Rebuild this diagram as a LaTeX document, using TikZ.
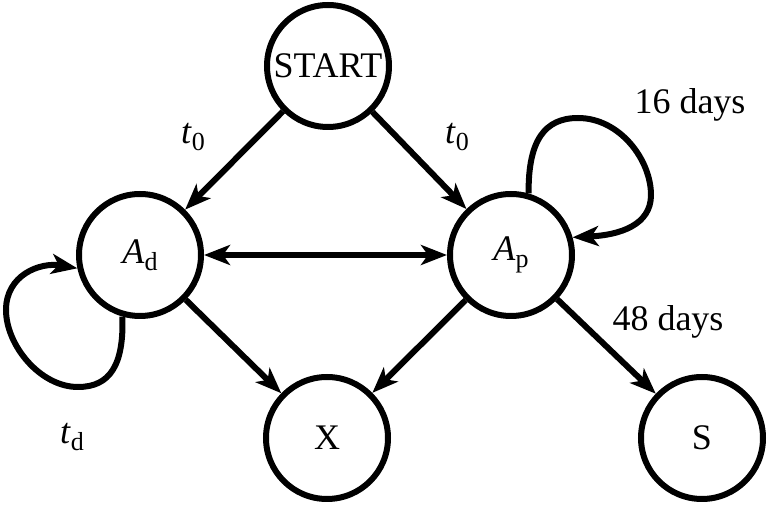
\documentclass[tikz,border=0pt]{standalone}
\usepackage{fontspec}
\setmainfont{Liberation Serif}
\usetikzlibrary{arrows.meta}
\newcommand{\lowsub}[2]{#1\raisebox{-0.45ex}{\fontsize{13}{15}\selectfont #2}}
\tikzset{
state/.style={circle,draw=black,line width=3pt,minimum size=61pt,inner sep=0pt,font=\fontsize{18}{22}\selectfont},
arrow/.style={-{Stealth[length=13pt,width=10pt,inset=3.5pt]},line width=3pt,draw=black},
dblarrow/.style={{Stealth[length=13pt,width=10pt,inset=3.5pt]}-{Stealth[length=13pt,width=10pt,inset=3.5pt]},line width=3pt,draw=black},
tag/.style={font=\fontsize{18}{22}\selectfont,inner sep=1pt}
}
\begin{document}
\begin{tikzpicture}[x=0.5pt,y=0.5pt]
\useasboundingbox (0,0) rectangle (768,-508);
\node[state] (start) at (328,-66) {START};
\node[state] (ad) at (140,-255) {\lowsub{\textit{A}}{d}};
\node[state] (ap) at (511,-255) {\lowsub{\textit{A}}{p}};
\node[state] (x) at (327,-438) {X};
\node[state] (s) at (702,-438) {S};
\draw[arrow] (start)--(ad); \draw[arrow] (start)--(ap);
\draw[dblarrow] (ad)--(ap);
\draw[arrow] (ad)--(x); \draw[arrow] (ap)--(x); \draw[arrow] (ap)--(s);
% self loops
\draw[arrow] (ad.-106) .. controls (124,-365) and (110,-387) .. (78,-387)
  .. controls (40,-387) and (6,-345) .. (6,-310)
  .. controls (6,-275) and (40,-262) .. (ad.192);
\draw[arrow] (ap.74) .. controls (528,-140) and (545,-118) .. (578,-118)
  .. controls (620,-118) and (651,-160) .. (651,-195)
  .. controls (651,-225) and (620,-235) .. (ap.16);
% labels
\node[tag] (t0l) at (193,-137) {\lowsub{\textit{t}}{0}};
\node[tag] (t0r) at (457,-137) {\lowsub{\textit{t}}{0}};
\node[tag] (tdl) at (72,-437) {\lowsub{\textit{t}}{d}};
\node[tag] (d16) at (690,-105) {16 days};
\node[tag] (d48) at (668,-322) {48 days};
\end{tikzpicture}
\end{document}
